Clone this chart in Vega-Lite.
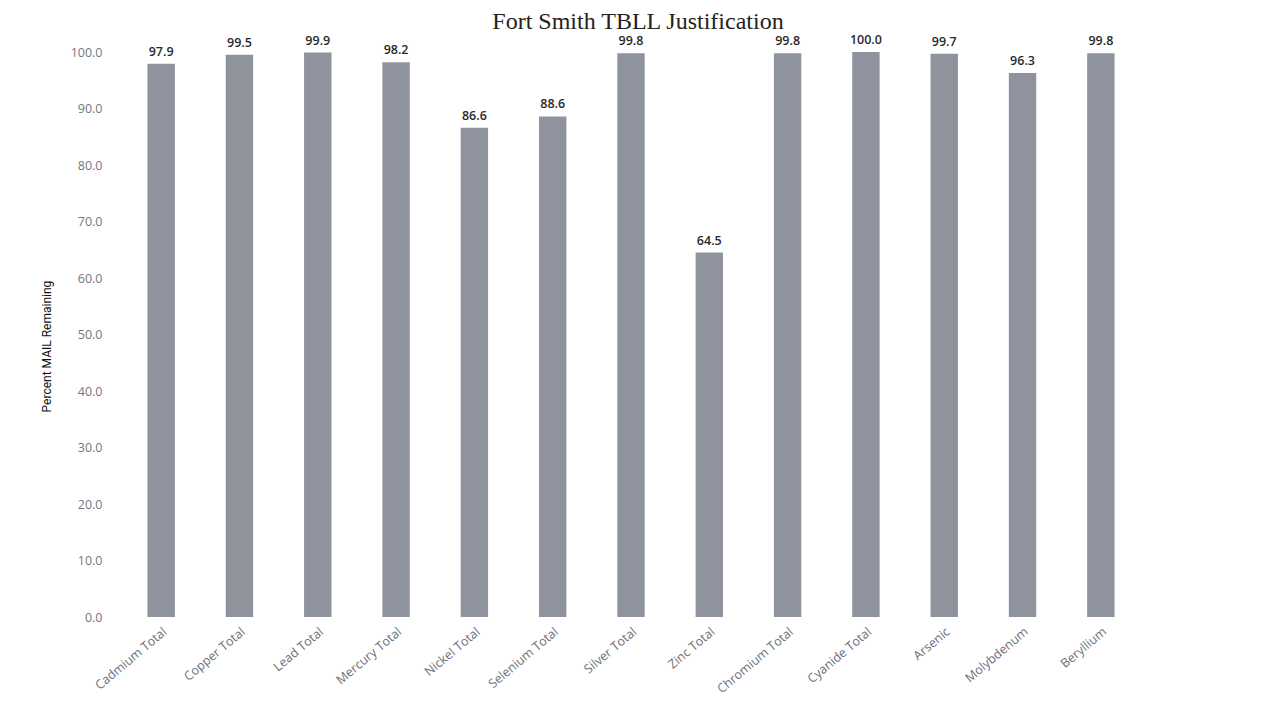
{
  "$schema": "https://vega.github.io/schema/vega-lite/v6.json",
  "autosize": "none",
  "width": 1018,
  "height": 565,
  "padding": {"left": 122, "top": 52, "right": 124, "bottom": 85},
  "background": "white",
  "title": {
    "text": "Fort Smith TBLL Justification",
    "font": "Liberation Serif",
    "fontSize": 24,
    "fontWeight": "normal",
    "color": "#222222",
    "anchor": "middle",
    "frame": "group",
    "offset": 22,
    "dy": 22,
    "dx": 7
  },
  "data": {
    "values": [
      {"analyte": "Cadmium Total", "pct": 97.9},
      {"analyte": "Copper Total", "pct": 99.5},
      {"analyte": "Lead Total", "pct": 99.9},
      {"analyte": "Mercury Total", "pct": 98.2},
      {"analyte": "Nickel Total", "pct": 86.6},
      {"analyte": "Selenium Total", "pct": 88.6},
      {"analyte": "Silver Total", "pct": 99.8},
      {"analyte": "Zinc Total", "pct": 64.5},
      {"analyte": "Chromium Total", "pct": 99.8},
      {"analyte": "Cyanide Total", "pct": 100.0},
      {"analyte": "Arsenic", "pct": 99.7},
      {"analyte": "Molybdenum", "pct": 96.3},
      {"analyte": "Beryllium", "pct": 99.8}
    ]
  },
  "encoding": {
    "x": {
      "field": "analyte",
      "type": "nominal",
      "sort": null,
      "scale": {"paddingInner": 0.65, "paddingOuter": 0.325},
      "axis": {
        "title": null,
        "labelAngle": -40,
        "labelAlign": "right",
        "labelBaseline": "top",
        "labelPadding": 8,
        "labelFont": "Open Sans",
        "labelFontSize": 12.5,
        "labelColor": "#6b6f7a",
        "domain": false,
        "ticks": false,
        "grid": false
      }
    },
    "y": {
      "field": "pct",
      "type": "quantitative",
      "scale": {"domain": [0, 100], "nice": false},
      "axis": {
        "title": "Percent MAIL Remaining",
        "titleFont": "Roboto",
        "titleFontSize": 12,
        "titleFontWeight": "normal",
        "titleColor": "#111111",
        "titlePadding": 17,
        "titleY": 294,
        "values": [0, 10, 20, 30, 40, 50, 60, 70, 80, 90, 100],
        "format": ".1f",
        "labelFont": "Open Sans",
        "labelFontSize": 12.5,
        "labelColor": "#737784",
        "labelPadding": 20,
        "domain": false,
        "ticks": false,
        "grid": false
      }
    }
  },
  "layer": [
    {"mark": {"type": "bar", "color": "#8e939d"}},
    {
      "mark": {
        "type": "text",
        "dy": -12,
        "font": "Open Sans",
        "fontSize": 12.5,
        "fontWeight": 600,
        "color": "#2a2a2a"
      },
      "encoding": {"text": {"field": "pct", "type": "quantitative", "format": ".1f"}}
    }
  ],
  "config": {"view": {"stroke": null}}
}
